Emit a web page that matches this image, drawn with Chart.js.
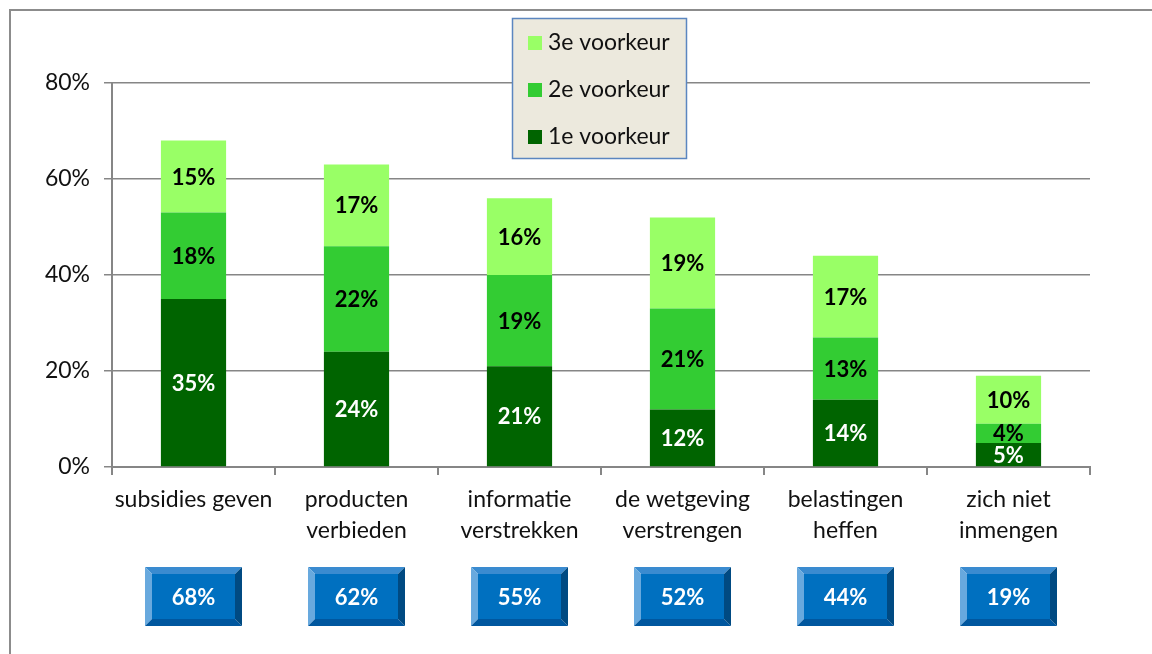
<!DOCTYPE html>
<html>
<head>
<meta charset="utf-8">
<script src="https://cdn.jsdelivr.net/npm/chart.js@4/dist/chart.umd.min.js"></script>
<style>
  html, body { margin: 0; padding: 0; background: #fff; }
  canvas { display: block; }
</style>
</head>
<body>
<canvas id="barchart" width="1152" height="654"></canvas>
<script>
var categories = [
  'subsidies geven',
  ['producten', 'verbieden'],
  ['informatie', 'verstrekken'],
  ['de wetgeving', 'verstrengen'],
  ['belastingen', 'heffen'],
  ['zich niet', 'inmengen']
]
var first = [35, 24, 21, 12, 14, 5]
var second = [18, 22, 19, 21, 13, 4]
var third = [15, 17, 16, 19, 17, 10]
var totals = [68, 62, 55, 52, 44, 19]
var yTicks = [0, 20, 40, 60, 80]

var FONT = 'Lato, "Open Sans", sans-serif'
var axisGray = '#868686'

// frame line along the top and left edge
var framePlugin = {
  id: 'frame',
  beforeDraw: function (chart) {
    var c = chart.ctx
    c.save()
    c.strokeStyle = '#8c8c8c'
    c.lineWidth = 2
    c.beginPath()
    c.moveTo(10, 654)
    c.lineTo(10, 10)
    c.lineTo(1152, 10)
    c.stroke()
    c.restore()
  }
}

// percentage text in the middle of each segment
var segmentLabels = {
  id: 'segmentLabels',
  afterDatasetsDraw: function (chart) {
    var c = chart.ctx
    c.save()
    c.font = 'bold 22px ' + FONT
    c.textAlign = 'center'
    c.textBaseline = 'middle'
    chart.data.datasets.forEach(function (ds, i) {
      var meta = chart.getDatasetMeta(i)
      meta.data.forEach(function (bar, j) {
        c.fillStyle = i == 0 ? '#ffffff' : '#000000'
        var mid = (bar.y + bar.base) / 2
        c.fillText(ds.data[j] + '%', bar.x, mid + 1)
      })
    })
    c.restore()
  }
}

// legend box, top item is the last series
var legendBox = {
  id: 'legendBox',
  afterDraw: function (chart) {
    var c = chart.ctx
    var x = 512, y = 18, w = 174, h = 140
    c.save()
    c.fillStyle = '#ECE9DD'
    c.fillRect(x, y, w, h)
    c.strokeStyle = '#5B86C0'
    c.lineWidth = 1.5
    c.strokeRect(x + 0.5, y + 0.5, w, h)
    c.font = '23px ' + FONT
    c.textBaseline = 'middle'
    var items = chart.data.datasets.slice().reverse()
    items.forEach(function (ds, k) {
      var cy = 43 + k * 47
      c.fillStyle = ds.backgroundColor
      c.fillRect(528, cy - 7, 14, 14)
      c.fillStyle = '#111'
      c.fillText(ds.label, 548, cy)
    })
    c.restore()
  }
}

// bevelled blue boxes with the total under each category
var totalBoxes = {
  id: 'totalBoxes',
  afterDraw: function (chart) {
    var c = chart.ctx
    var xs = chart.scales.x
    var w = 97, h = 59, b = 7, top = 567
    c.save()
    totals.forEach(function (t, i) {
      var cx = xs.getPixelForValue(i)
      var l = Math.round(cx - w / 2), r = l + w, btm = top + h
      c.fillStyle = '#3A8BD0'
      c.beginPath(); c.moveTo(l, top); c.lineTo(r, top); c.lineTo(r - b, top + b); c.lineTo(l + b, top + b); c.fill()
      c.fillStyle = '#68A9DE'
      c.beginPath(); c.moveTo(l, top); c.lineTo(l + b, top + b); c.lineTo(l + b, btm - b); c.lineTo(l, btm); c.fill()
      c.fillStyle = '#00579F'
      c.beginPath(); c.moveTo(l, btm); c.lineTo(l + b, btm - b); c.lineTo(r - b, btm - b); c.lineTo(r, btm); c.fill()
      c.fillStyle = '#004A82'
      c.beginPath(); c.moveTo(r, top); c.lineTo(r, btm); c.lineTo(r - b, btm - b); c.lineTo(r - b, top + b); c.fill()
      c.fillStyle = '#0070C0'
      c.fillRect(l + b, top + b, w - 2 * b, h - 2 * b)
      c.fillStyle = '#ffffff'
      c.font = 'bold 22px ' + FONT
      c.textAlign = 'center'
      c.textBaseline = 'middle'
      c.fillText(t + '%', cx, top + h / 2 + 1)
    })
    c.restore()
  }
}

var ctx = document.getElementById('barchart').getContext('2d')
var myChart = new Chart(ctx, {
  type: 'bar',
  data: {
    labels: categories,
    datasets: [
      { label: '1e voorkeur', data: first, backgroundColor: '#006400' },
      { label: '2e voorkeur', data: second, backgroundColor: '#33CC33' },
      { label: '3e voorkeur', data: third, backgroundColor: '#99FF66' }
    ]
  },
  options: {
    responsive: false,
    animation: false,
    events: [],
    barPercentage: 0.4,
    categoryPercentage: 1,
    layout: { padding: { left: 10, top: 83, right: 62, bottom: 0 } },
    scales: {
      x: {
        stacked: true,
        afterFit: function (s) { s.height = 187 },
        grid: { offset: true, drawOnChartArea: false, color: axisGray, tickLength: 8, lineWidth: 2 },
        border: { color: axisGray, width: 2 },
        ticks: {
          color: '#111',
          font: { family: FONT, size: 23, lineHeight: 1.35 },
          padding: 9,
          maxRotation: 0,
          autoSkip: false
        }
      },
      y: {
        stacked: true,
        min: 0,
        max: 80,
        afterFit: function (s) { s.width = 102 },
        afterBuildTicks: function (s) { s.ticks = yTicks.map(function (v) { return { value: v } }) },
        grid: { color: axisGray, tickLength: 8, lineWidth: 1.5 },
        border: { color: axisGray, width: 2 },
        ticks: {
          color: '#111',
          font: { family: FONT, size: 23 },
          padding: 14,
          callback: function (v) { return v + '%' }
        }
      }
    },
    plugins: {
      legend: { display: false },
      tooltip: { enabled: false }
    }
  },
  plugins: [framePlugin, segmentLabels, legendBox, totalBoxes]
})
</script>
</body>
</html>
